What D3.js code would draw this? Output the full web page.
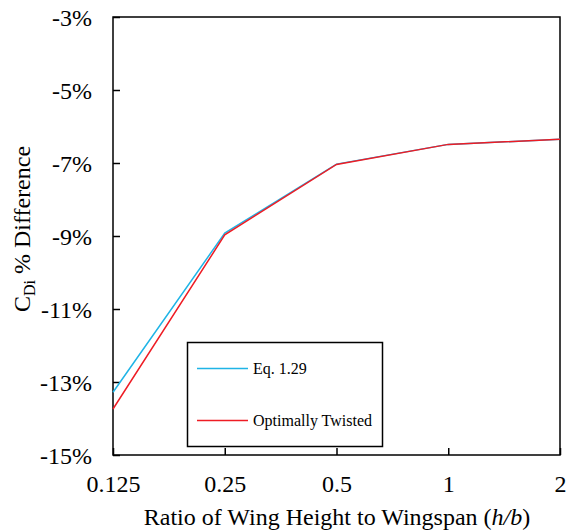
<!DOCTYPE html>
<html>
<head>
<meta charset="utf-8">
<script src="https://cdn.jsdelivr.net/npm/d3@7"></script>
<style>
  body { margin: 0; background: #fff; }
</style>
</head>
<body>
<svg width="567" height="531"></svg>
<script>
// h/b ratios and drag-difference percentages
const ratios = [0.125, 0.25, 0.5, 1, 2];
const eqValues = [-13.28, -8.92, -7.03, -6.49, -6.35];
const twistedValues = [-13.74, -8.97, -7.04, -6.49, -6.35];
const yTicks = [-15, -13, -11, -9, -7, -5, -3];

const series = [
  { name: 'Eq. 1.29', color: '#1fb4e6', values: eqValues },
  { name: 'Optimally Twisted', color: '#ee1c24', values: twistedValues },
];

const serif = "'Liberation Serif', 'Times New Roman', Times, serif";
const plotL = 113, plotR = 560, plotT = 17, plotB = 455;
const svg = d3.select('svg').style('font-family', serif);

const x = d3.scaleLog().base(2).domain([0.125, 2]).range([plotL, plotR]);
const y = d3.scaleLinear().domain([-15, -3]).range([plotB, plotT]);

// plot frame
svg.append('rect')
  .attr('x', plotL).attr('y', plotT)
  .attr('width', plotR - plotL).attr('height', plotB - plotT)
  .attr('fill', 'none').attr('stroke', '#000').attr('stroke-width', 1.5);

// y axis, ticks pointing inward
const yAxis = svg.append('g')
  .attr('transform', `translate(${plotL},0)`)
  .call(d3.axisRight(y).tickValues(yTicks).tickSize(7).tickFormat(d => d + '%'));
yAxis.attr('font-family', null).attr('font-size', null);
yAxis.select('.domain').remove();
yAxis.selectAll('line').attr('stroke-width', 1.5);
yAxis.selectAll('text')
  .attr('x', -21).attr('dy', '0.34em').attr('text-anchor', 'end')
  .style('font-family', serif)
  .style('font-size', '24px').attr('fill', '#000');

// x axis, ticks pointing up
const xAxis = svg.append('g')
  .attr('transform', `translate(0,${plotB})`)
  .call(d3.axisTop(x).tickValues(ratios).tickSize(7).tickFormat(d => String(d)));
xAxis.attr('font-family', null).attr('font-size', null);
xAxis.select('.domain').remove();
xAxis.selectAll('line').attr('stroke-width', 1.5);
xAxis.selectAll('text')
  .attr('y', 37).attr('dy', 0)
  .style('font-family', serif)
  .style('font-size', '24px').attr('fill', '#000');

// lines
const line = d3.line().x((d, i) => x(ratios[i])).y(d => y(d));
series.forEach(s => {
  svg.append('path')
    .datum(s.values)
    .attr('d', line)
    .attr('fill', 'none')
    .attr('stroke', s.color)
    .attr('stroke-width', 1.5);
});

// legend
const legend = svg.append('g');
legend.append('rect')
  .attr('x', 187.5).attr('y', 342.5).attr('width', 195).attr('height', 104)
  .attr('fill', '#fff').attr('stroke', '#000').attr('stroke-width', 1.5);
series.forEach((s, i) => {
  const ly = 368.5 + i * 52;
  legend.append('line')
    .attr('x1', 197).attr('x2', 248).attr('y1', ly).attr('y2', ly)
    .attr('stroke', s.color).attr('stroke-width', 1.5);
  legend.append('text')
    .attr('x', 253).attr('y', ly + 5)
    .style('font-family', serif)
    .style('font-size', '16px')
    .text(s.name);
});

// axis titles
const yTitle = svg.append('text')
  .attr('transform', 'translate(30,229) rotate(-90)')
  .attr('text-anchor', 'middle')
  .style('font-family', serif)
  .style('font-size', '24px');
yTitle.append('tspan').text('C');
yTitle.append('tspan').attr('dy', 5).style('font-size', '16px').text('Di');
yTitle.append('tspan').attr('dy', -5).text(' % Difference');

const xTitle = svg.append('text')
  .attr('x', 337).attr('y', 525)
  .attr('text-anchor', 'middle')
  .style('font-family', serif)
  .style('font-size', '24px');
xTitle.append('tspan').text('Ratio of Wing Height to Wingspan (');
xTitle.append('tspan').style('font-style', 'italic').text('h/b');
xTitle.append('tspan').text(')');
</script>
</body>
</html>
